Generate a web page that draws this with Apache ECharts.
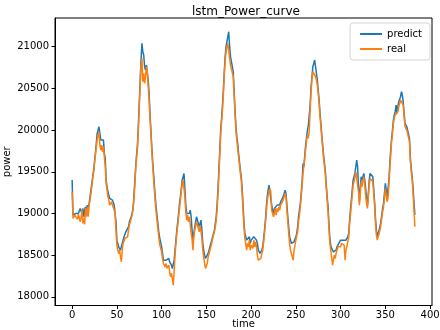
<!DOCTYPE html>
<html>
<head>
<meta charset="utf-8">
<script src="https://cdn.jsdelivr.net/npm/echarts@6/dist/echarts.min.js"></script>
<style>html,body{margin:0;padding:0;background:#fff}#c{width:440px;height:330px}</style>
</head>
<body>
<div id="c"></div>
<script>
const xTicks = [0, 50, 100, 150, 200, 250, 300, 350, 400];
const yTicks = [18000, 18500, 19000, 19500, 20000, 20500, 21000];
const seriesNames = ['predict', 'real'];
const predict = [
19400,18980,18960,18990,19000,18980,19010,19000,19030,19060,
19080,19000,19060,18960,19040,19080,19020,19100,19060,19120,
19200,19280,19360,19440,19520,19620,19720,19840,19960,20000,
20040,19960,19880,19860,19860,19880,19720,19660,19400,19320,
19260,19220,19180,19160,19180,19160,19160,19100,19080,18900,
18680,18640,18600,18620,18560,18600,18640,18680,18720,18740,
18780,18760,18780,18840,18900,18920,18960,19000,19060,19200,
19380,19560,19700,19820,20060,20320,20580,20840,21040,20940,
20900,20760,20720,20780,20800,20600,20440,20200,20000,19800,
19620,19480,19320,19180,19060,18960,18860,18760,18700,18680,
18600,18520,18440,18440,18460,18440,18440,18420,18460,18420,
18400,18380,18340,18320,18440,18560,18680,18800,18900,19000,
19120,19200,19300,19400,19440,19480,19300,19100,19000,19000,
18980,19000,19040,18960,18800,18640,18760,18840,18900,18960,
18960,18880,18840,18880,18920,18800,18640,18560,18500,18460,
18440,18480,18520,18560,18600,18640,18680,18720,18760,18800,
18880,18960,19100,19300,19520,19760,20000,20140,20300,20480,
20700,20880,21000,21060,21120,21180,21000,20880,20860,20860,
20700,20480,20240,20060,19920,19840,19720,19620,19520,19440,
19300,19100,18900,18760,18720,18680,18700,18660,18720,18640,
18680,18700,18660,18720,18700,18720,18680,18640,18560,18540,
18520,18540,18560,18600,18700,18800,18920,19080,19200,19280,
19340,19360,19320,19100,19040,19000,19060,19080,19060,19100,
19080,19120,19100,19140,19160,19180,19200,19240,19280,19240,
19100,18960,18840,18720,18680,18640,18620,18640,18660,18680,
18720,18760,18840,18960,19040,19120,19240,19380,19600,19560,
19700,19820,19920,20000,20060,20080,20300,20520,20640,20760,
20800,20840,20760,20680,20600,20480,20360,20200,20080,19940,
19820,19700,19600,19500,19340,19200,19080,18880,18700,18620,
18580,18560,18540,18560,18540,18560,18600,18620,18640,18660,
18680,18680,18700,18680,18700,18680,18680,18680,18720,18760,
18900,19040,19160,19280,19400,19440,19480,19560,19640,19560,
19320,19140,19300,19440,19400,19440,19480,19400,19300,19180,
19100,19240,19400,19480,19460,19460,19440,19300,19140,18940,
18800,18720,18760,18800,18840,18900,18980,19060,19120,19240,
19360,19340,19200,19220,19400,19600,19760,19900,20000,20120,
20180,20220,20300,20200,20280,20340,20360,20400,20460,20420,
20340,20200,20080,20060,20040,20040,20020,19900,19660,19540,
19440,19300,19140,18980
];
const real = [
19260,18940,18920,18980,18960,19000,18930,18990,19000,18900,
18950,19050,18880,18940,18870,19060,18960,19080,18960,19100,
19160,19240,19320,19420,19480,19600,19700,19800,19880,19940,
19980,19820,19760,19820,19740,19800,19680,19560,19360,19280,
19200,19160,19100,19120,19140,19100,19120,19040,19000,18800,
18620,18560,18520,18560,18480,18420,18560,18640,18660,18700,
18700,18680,18720,18800,18860,18880,18940,18980,19040,19160,
19320,19520,19660,19780,20000,20260,20540,20780,20860,20580,
20680,20560,20640,20760,20700,20520,20360,20140,19960,19760,
19580,19420,19260,19120,19000,18900,18800,18700,18620,18600,
18540,18460,18400,18380,18360,18400,18340,18360,18380,18300,
18240,18280,18220,18140,18300,18500,18640,18760,18860,18960,
19060,19160,19260,19360,19400,19400,19200,19020,18920,18980,
18900,18960,18980,18760,18700,18560,18720,18800,18820,18900,
18880,18820,18780,18860,18840,18700,18560,18480,18400,18340,
18320,18400,18480,18520,18560,18600,18640,18700,18740,18780,
18840,18920,19040,19240,19460,19700,19940,20100,20240,20420,
20660,20820,20940,21000,21040,21060,20860,20780,20800,20760,
20640,20420,20200,20000,19880,19780,19680,19580,19480,19400,
19240,19040,18840,18700,18640,18560,18640,18600,18680,18560,
18620,18640,18580,18680,18600,18660,18600,18500,18440,18460,
18440,18460,18520,18560,18660,18760,18880,19020,19140,19220,
19260,19300,19260,19040,19000,18960,19000,19060,18980,19060,
19020,19080,19040,19100,19120,19140,19160,19200,19240,19200,
19040,18900,18760,18640,18560,18520,18480,18440,18560,18620,
18680,18700,18780,18900,18980,19080,19200,19340,19480,19500,
19660,19780,19880,19940,19900,20000,20240,20460,20600,20700,
20720,20720,20640,20600,20540,20440,20320,20160,20040,19900,
19780,19660,19560,19460,19300,19160,19020,18820,18640,18560,
18480,18380,18440,18500,18460,18520,18560,18600,18580,18620,
18600,18640,18620,18620,18620,18440,18560,18600,18660,18700,
18860,18980,19100,19220,19340,19380,19440,19500,19520,19480,
19260,19100,19240,19380,19320,19400,19440,19340,19220,19120,
19060,19200,19340,19420,19400,19420,19380,19240,19100,18880,
18740,18680,18720,18760,18800,18860,18940,19020,19080,19180,
19300,19280,19140,19180,19340,19540,19700,19860,19960,20080,
20140,20180,20200,20160,20220,20280,20320,20360,20380,20360,
20300,20160,20040,20020,20000,20000,19980,19860,19620,19500,
19400,19240,19040,18840
];

const toPairs = arr => arr.map((v, i) => [i, v]);
const font = 'DejaVu Sans';
const chart = echarts.init(document.getElementById('c'), null, {renderer: 'canvas'});
chart.setOption({
  animation: false,
  backgroundColor: '#fff',
  title: {
    text: 'lstm_Power_curve',
    left: 187, top: 1,
    textStyle: {fontFamily: font, fontSize: 12, fontWeight: 'normal', color: '#000'}
  },
  legend: {
    data: seriesNames,
    orient: 'vertical',
    right: 10, top: 23,
    icon: 'rect', itemWidth: 22, itemHeight: 2, itemGap: 5,
    padding: [6, 8, 6, 10],
    borderColor: '#d5d5d5', borderWidth: 1, borderRadius: 3,
    backgroundColor: 'rgba(255,255,255,0.8)',
    textStyle: {fontFamily: font, fontSize: 10, color: '#000'}
  },
  grid: {
    left: 55, right: 8, top: 18, bottom: 24.5,
    outerBoundsMode: 'none', containLabel: false,
    show: true, borderColor: '#000', borderWidth: 1, backgroundColor: 'transparent'
  },
  xAxis: {
    type: 'value', min: -19.15, max: 402.15,
    name: 'time', nameLocation: 'middle', nameGap: 14, nameMoveOverlap: false,
    nameTextStyle: {fontFamily: font, fontSize: 10, color: '#000'},
    axisLine: {show: true, onZero: false, lineStyle: {color: '#000'}},
    axisTick: {show: true, inside: false, length: 3.5, lineStyle: {color: '#000'}, customValues: xTicks},
    axisLabel: {fontFamily: font, fontSize: 10, color: '#000', margin: 5, customValues: xTicks,
                formatter: v => String(v)},
    splitLine: {show: false}
  },
  yAxis: {
    type: 'value', min: 17896, max: 21344,
    name: 'power', nameLocation: 'middle', nameGap: 43, nameRotate: 90, nameMoveOverlap: false,
    nameTextStyle: {fontFamily: font, fontSize: 10, color: '#000'},
    axisLine: {show: true, onZero: false, lineStyle: {color: '#000'}},
    axisTick: {show: true, inside: false, length: 3.5, lineStyle: {color: '#000'}, customValues: yTicks},
    axisLabel: {fontFamily: font, fontSize: 10, color: '#000', margin: 6, customValues: yTicks,
                formatter: v => String(v)},
    splitLine: {show: false}
  },
  series: [
    {name: seriesNames[0], type: 'line', data: toPairs(predict), showSymbol: false, symbol: 'none',
     lineStyle: {color: '#1f77b4', width: 1.5}, itemStyle: {color: '#1f77b4'}, z: 2},
    {name: seriesNames[1], type: 'line', data: toPairs(real), showSymbol: false, symbol: 'none',
     lineStyle: {color: '#ff7f0e', width: 1.5}, itemStyle: {color: '#ff7f0e'}, z: 3}
  ]
});
</script>
</body>
</html>
